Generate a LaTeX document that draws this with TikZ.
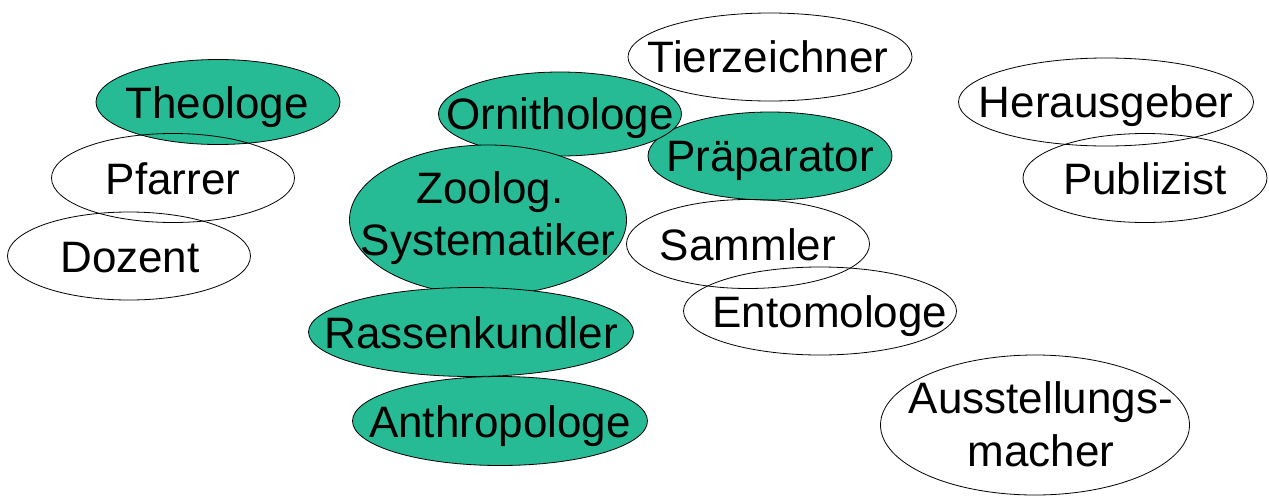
\documentclass[tikz,border=0pt]{standalone}
\usepackage{fontspec}
\setmainfont{Liberation Sans}
\usetikzlibrary{shapes.geometric}
\definecolor{berufgruen}{RGB}{38,187,148}
\tikzset{
  beruf/.style={ellipse,draw=black,line width=0.8pt,inner sep=0pt},
  kern/.style={beruf,fill=berufgruen},
  rand/.style={beruf},
  wort/.style={anchor=base,inner sep=0pt,font=\fontsize{44}{52}\selectfont}
}
\begin{document}
\begin{tikzpicture}[x=1pt,y=-1pt]
		\useasboundingbox (0,0) rectangle (1269,496);
		%
		\node [kern,minimum width=244,minimum height=88] (praeparator) at (770,156) {};
		\node [wort] (praeparator-t) at (770,171) {Pr\"aparator};
		\node [kern,minimum width=243,minimum height=84] (ornithologe) at (560,114) {};
		\node [wort] (ornithologe-t) at (560,129) {Ornithologe};
		\node [kern,minimum width=277,minimum height=150] (systematiker) at (488,220) {};
		\node [wort] (systematiker-a) at (490,203) {Zoolog.};
		\node [wort] (systematiker-b) at (488,255) {Systematiker};
		\node [kern,minimum width=325,minimum height=89] (rassenkundler) at (471,332) {};
		\node [wort] (rassenkundler-t) at (471,348) {Rassenkundler};
		\node [kern,minimum width=295,minimum height=89] (anthropologe) at (500,421) {};
		\node [wort] (anthropologe-t) at (500,437) {Anthropologe};
		\node [kern,minimum width=244,minimum height=85] (theologe) at (218,102) {};
		\node [wort] (theologe-t) at (217,118) {Theologe};
		%
		\node [rand,minimum width=243,minimum height=89] (pfarrer) at (173,178) {};
		\node [wort] (pfarrer-t) at (173,194) {Pfarrer};
		\node [rand,minimum width=243,minimum height=88] (dozent) at (129,256) {};
		\node [wort] (dozent-t) at (130,272) {Dozent};
		\node [rand,minimum width=284,minimum height=88] (tierzeichner) at (770,57) {};
		\node [wort] (tierzeichner-t) at (768,72) {Tierzeichner};
		\node [rand,minimum width=243,minimum height=89] (sammler) at (748,244) {};
		\node [wort] (sammler-t) at (748,260) {Sammler};
		\node [rand,minimum width=273,minimum height=88] (entomologe) at (820,311) {};
		\node [wort] (entomologe-t) at (830,327) {Entomologe};
		\node [rand,minimum width=295,minimum height=88] (herausgeber) at (1106,102) {};
		\node [wort] (herausgeber-t) at (1106,117) {Herausgeber};
		\node [rand,minimum width=244,minimum height=89] (publizist) at (1145,178) {};
		\node [wort] (publizist-t) at (1145,194) {Publizist};
		\node [rand,minimum width=309,minimum height=140] (ausstellung) at (1035,425) {};
		\node [wort] (ausstellung-a) at (1041,413) {Ausstellungs-};
		\node [wort] (ausstellung-b) at (1041,466) {macher};
	\end{tikzpicture}
\end{document}
